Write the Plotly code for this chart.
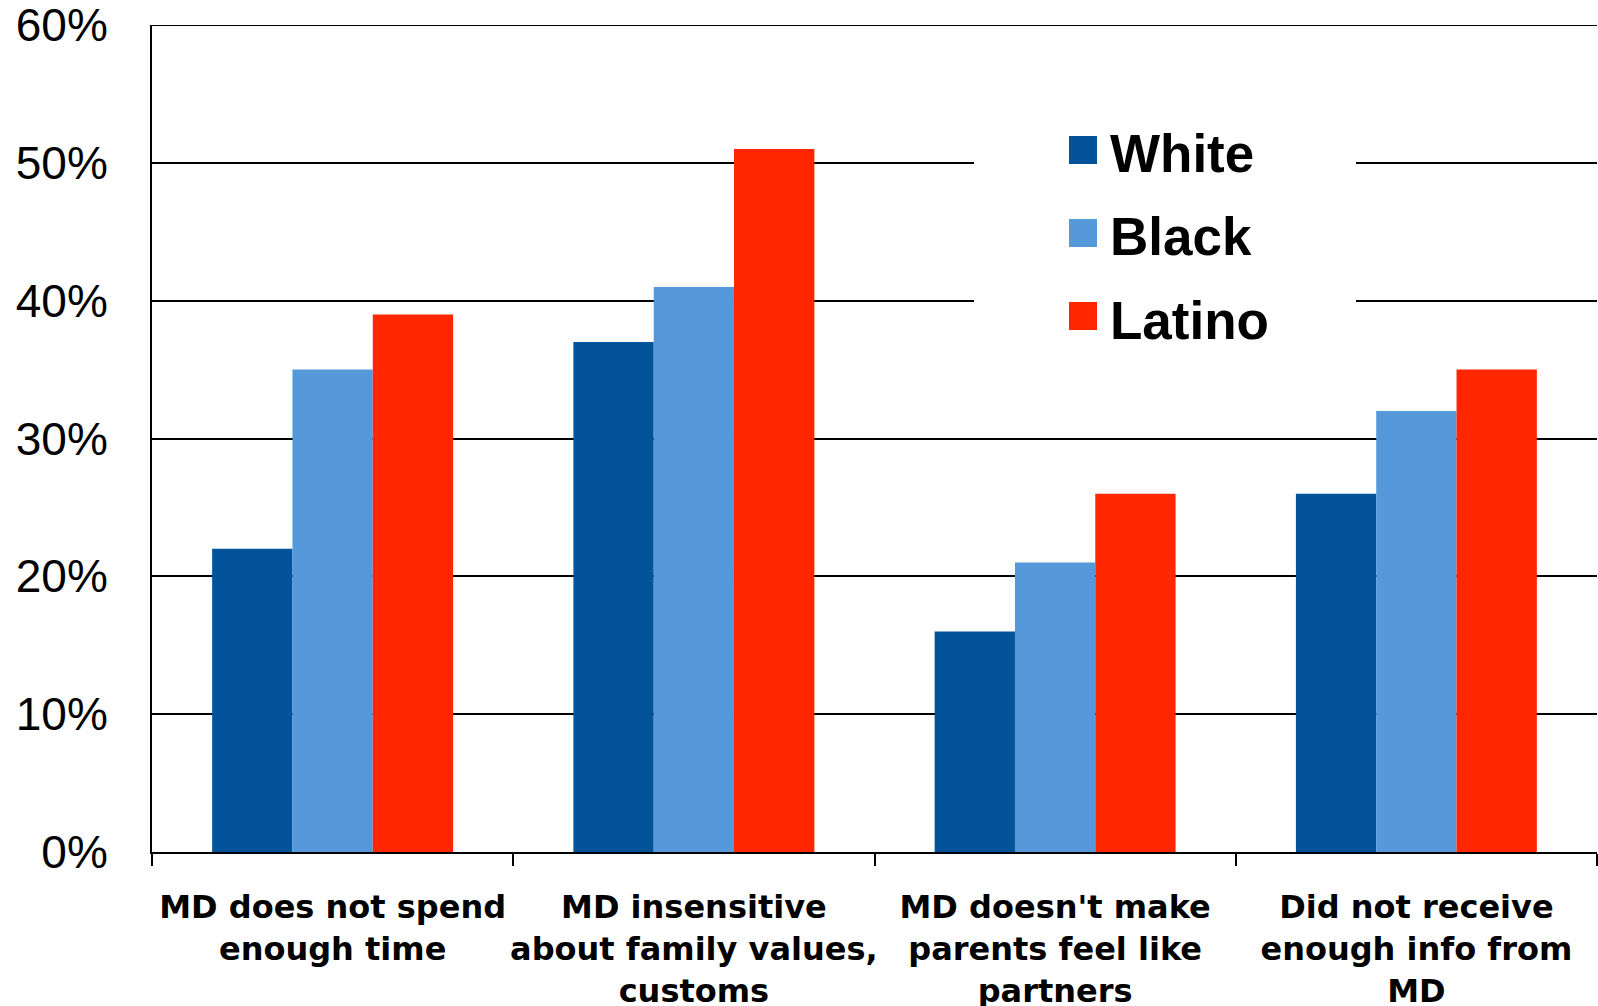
import plotly.graph_objects as go

# Survey categories (x axis) and response shares by group, in percent
categories = [
    "MD does not spend<br>enough time",
    "MD insensitive<br>about family values,<br>customs",
    "MD doesn't make<br>parents feel like<br>partners",
    "Did not receive<br>enough info from<br>MD",
]
groups = ["White", "Black", "Latino"]
white = [22, 37, 16, 26]
black = [35, 41, 21, 32]
latino = [39, 51, 26, 35]
y_ticks = [0, 10, 20, 30, 40, 50, 60]
y_tick_text = [f"{v}%" for v in y_ticks]

colors = ["#02539A", "#5599DB", "#FF2600"]

W, H = 1598, 1006
ML, MR, MT, MB = 152, 1, 25, 154


def px_x(px):
    return (px - ML) / (W - ML - MR)


def px_y(py):
    return (H - MB - py) / (H - MB - MT)


fig = go.Figure()
for name, vals, col in zip(groups, [white, black, latino], colors):
    fig.add_trace(go.Bar(x=categories, y=vals, name=name, marker_color=col,
                         marker_line_width=0, showlegend=False))

# Top gridline at the upper end of the value axis
shapes = [dict(type="line", xref="paper", yref="y", x0=0, x1=1,
               y0=y_ticks[-1], y1=y_ticks[-1], line=dict(color="black", width=2),
               layer="below")]

# Hand-drawn legend: white panel hiding gridlines, colour squares and labels
shapes.append(dict(type="rect", xref="paper", yref="paper",
                   x0=px_x(974), x1=px_x(1356), y0=px_y(360), y1=px_y(110),
                   fillcolor="white", line_width=0, layer="above"))
annotations = []
legend_rows = [150, 233, 316]
for name, col, cy in zip(groups, colors, legend_rows):
    shapes.append(dict(type="rect", xref="paper", yref="paper",
                       x0=px_x(1069), x1=px_x(1097),
                       y0=px_y(cy + 14), y1=px_y(cy - 14),
                       fillcolor=col, line_width=0, layer="above"))
    annotations.append(dict(xref="paper", yref="paper", x=px_x(1108), y=px_y(cy + 4),
                            text=name, showarrow=False, xanchor="left", yanchor="middle",
                            font=dict(family="Liberation Sans, Arial", size=53,
                                      color="black", weight="bold")))

fig.update_layout(
    width=W, height=H,
    margin=dict(l=ML, r=MR, t=MT, b=MB, pad=0),
    paper_bgcolor="white", plot_bgcolor="white",
    barmode="group", bargap=0.333, bargroupgap=0,
    shapes=shapes, annotations=annotations,
    showlegend=False,
)
fig.update_xaxes(
    type="category", showgrid=False, showline=True, linecolor="black", linewidth=2,
    ticks="outside", tickson="boundaries", ticklen=12, tickwidth=2, tickcolor="black",
    ticklabelstandoff=26, automargin=False,
    tickfont=dict(family="DejaVu Sans", size=32, color="black", weight="bold"),
    tickangle=0,
)
fig.update_yaxes(
    range=[0, 60], tickvals=y_ticks, ticktext=y_tick_text,
    showgrid=True, gridcolor="black", gridwidth=2,
    showline=True, linecolor="black", linewidth=2, zeroline=False,
    ticks="", ticklabelstandoff=33, automargin=False, ticklabeloverflow="allow",
    tickfont=dict(family="Liberation Sans, Arial", size=46, color="black"),
)

fig.write_html("out.html")
